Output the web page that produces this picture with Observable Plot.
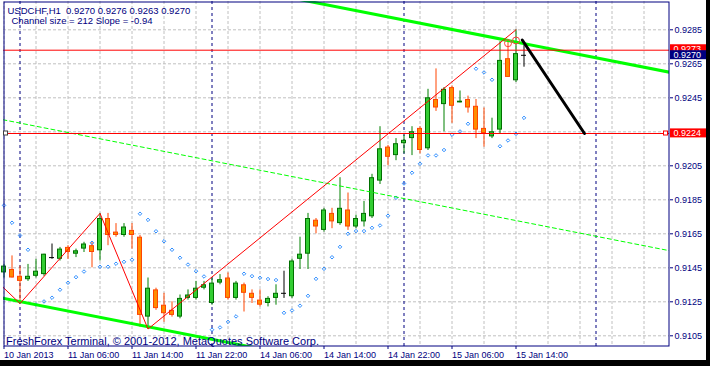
<!DOCTYPE html>
<html><head><meta charset="utf-8">
<script src="https://cdn.jsdelivr.net/npm/d3@7"></script>
<script src="https://cdn.jsdelivr.net/npm/@observablehq/plot@0.6"></script>
<style>
html,body{margin:0;padding:0;background:#000;}
#chart{width:710px;height:366px;overflow:hidden;}
svg{display:block;}
</style></head><body><div id="chart"></div>
<script>
// ---- data ----
const headerLine1 = "USDCHF,H1\u00A0\u00A00.9270 0.9276 0.9263 0.9270";
const headerLine2 = "Channel size = 212 Slope = -0.94";
const footerText = "FreshForex Terminal, \u00A9 2001-2012, MetaQuotes Software Corp.";

const barIndex = d3.range(-2, 64);
const opens = [0.9142,0.9144,0.9140,0.9138,0.9140,0.9141,0.9151,0.9150,0.9157,0.9153,0.9156,0.9158,0.9155,0.9174,0.9166,0.9164,0.9167,0.9163,0.9116,0.9132,0.9123,0.9120,0.9116,0.9127,0.9127,0.9133,0.9124,0.9136,0.9139,0.9127,0.9135,0.9130,0.9126,0.9124,0.9127,0.9130,0.9128,0.9150,0.9153,0.9173,0.9167,0.9177,0.9171,0.9179,0.9169,0.9172,0.9175,0.9196,0.9216,0.9211,0.9218,0.9221,0.9227,0.9215,0.9244,0.9241,0.9251,0.9242,0.9244,0.9240,0.9227,0.9222,0.9226,0.9268,0.9255,0.9270];
const highs = [0.9147,0.9152,0.9146,0.9147,0.9150,0.9153,0.9159,0.9157,0.9158,0.9156,0.9160,0.9160,0.9177,0.9177,0.9171,0.9171,0.9171,0.9164,0.9139,0.9133,0.9130,0.9125,0.9129,0.9132,0.9137,0.9137,0.9139,0.9141,0.9142,0.9137,0.9136,0.9132,0.9132,0.9128,0.9135,0.9143,0.9150,0.9163,0.9177,0.9174,0.9180,0.9180,0.9198,0.9189,0.9176,0.9184,0.9200,0.9228,0.9217,0.9221,0.9223,0.9228,0.9228,0.9250,0.9262,0.9251,0.9252,0.9249,0.9246,0.9244,0.9239,0.9233,0.9278,0.9279,0.9285,0.9276];
const lows = [0.9139,0.9139,0.9124,0.9137,0.9139,0.9140,0.9150,0.9149,0.9150,0.9151,0.9154,0.9145,0.9149,0.9158,0.9163,0.9163,0.9156,0.9110,0.9109,0.9120,0.9113,0.9116,0.9115,0.9126,0.9126,0.9132,0.9123,0.9135,0.9126,0.9126,0.9119,0.9124,0.9122,0.9122,0.9123,0.9127,0.9127,0.9144,0.9144,0.9165,0.9166,0.9168,0.9170,0.9167,0.9168,0.9169,0.9174,0.9194,0.9205,0.9208,0.9212,0.9211,0.9212,0.9214,0.9237,0.9225,0.9230,0.9242,0.9236,0.9221,0.9216,0.9221,0.9224,0.9257,0.9254,0.9263];
const closes = [0.9146,0.9139,0.9137,0.9140,0.9143,0.9153,0.9151,0.9156,0.9154,0.9155,0.9159,0.9154,0.9174,0.9164,0.9164,0.9169,0.9164,0.9117,0.9133,0.9121,0.9118,0.9117,0.9127,0.9129,0.9133,0.9135,0.9136,0.9138,0.9127,0.9136,0.9130,0.9127,0.9123,0.9127,0.9130,0.9130,0.9149,0.9153,0.9174,0.9169,0.9179,0.9172,0.9180,0.9169,0.9174,0.9177,0.9198,0.9215,0.9210,0.9218,0.9220,0.9225,0.9214,0.9245,0.9239,0.9250,0.9240,0.9243,0.9239,0.9226,0.9224,0.9225,0.9267,0.9257,0.9271,0.9270];
const sarValues = [0.91817,0.91715,0.91640,0.91556,0.91234,0.91252,0.91274,0.91321,0.91362,0.91395,0.91428,0.91597,0.91456,0.91456,0.91474,0.91485,0.91497,0.91768,0.91732,0.91665,0.91606,0.91556,0.91509,0.91469,0.91430,0.91399,0.91086,0.91099,0.91132,0.91164,0.91415,0.91401,0.91391,0.91384,0.91378,0.91185,0.91199,0.91227,0.91285,0.91385,0.91444,0.91512,0.91573,0.91650,0.91666,0.91666,0.91685,0.91699,0.91756,0.91862,0.91946,0.92009,0.92062,0.92111,0.92111,0.92143,0.92233,0.92252,0.92297,0.92621,0.92599,0.92556,0.92165,0.92199,0.92238,0.92332];

const zigzagIndex = [-4, 0, 10, 16, 62];
const zigzagPrice = [0.9142, 0.9124, 0.9177, 0.9109, 0.9285];

const channelIndex = [-3, 82];
const channelMid = [0.92329, 0.91543];
const channelHalf = 0.0105;

const hLinePrices = [0.9273, 0.9224];
const bidPrice = 0.9270;
const arrowIndex = [62.78, 70.56];
const arrowPrice = [0.9279, 0.9224];
const circleIndex = [61, 62];
const circlePrice = [0.92771, 0.92787];

const priceTicks = [0.9105,0.9125,0.9145,0.9165,0.9185,0.9205,0.9225,0.9245,0.9265,0.9285];
const gridIndex = d3.range(-2, 82, 4);
const daySeparators = [0, 24, 48, 72];
const timeTickIndex = [-2, 6, 14, 22, 30, 38, 46, 54, 62];
const timeTickLabels = ["10 Jan 2013","11 Jan 06:00","11 Jan 14:00","11 Jan 22:00","14 Jan 06:00","14 Jan 14:00","14 Jan 22:00","15 Jan 06:00","15 Jan 14:00"];

// ---- tables ----
const candles = barIndex.map((i, k) => ({i, open: opens[k], high: highs[k], low: lows[k], close: closes[k]}));
const kind = d => d.close > d.open ? "up" : d.close < d.open ? "down" : "doji";
const wickColor = {up: "#008000", down: "#ff4500", doji: "#000000"};
const bodyFill = {up: "#32cd32", down: "#ff8c00"};
const bodyStroke = {up: "#007000", down: "#ff4500"};
const bodies = candles.filter(d => kind(d) !== "doji");
const dojis = candles.filter(d => kind(d) === "doji");
const sarData = barIndex.map((i, k) => ({i, v: sarValues[k]}));
const zigzag = zigzagIndex.map((i, k) => ({i, p: zigzagPrice[k]}));
const chanTop = channelIndex.map((i, k) => ({i, p: channelMid[k] + channelHalf}));
const chanMid = channelIndex.map((i, k) => ({i, p: channelMid[k]}));
const chanBot = channelIndex.map((i, k) => ({i, p: channelMid[k] - channelHalf}));
const arrow = arrowIndex.map((i, k) => ({i, p: arrowPrice[k]}));
const circles = circleIndex.map((i, k) => ({i, p: circlePrice[k]}));
const half = 0.3125;
const navy = "#000080";
const font = "'Liberation Sans', Arial, sans-serif";

const plot = Plot.plot({
  width: 706, height: 360,
  marginLeft: 3, marginRight: 37, marginTop: 1, marginBottom: 14,
  x: {type: "linear", domain: [-2, 63], range: [3.5, 523.5]},
  y: {type: "linear", domain: [0.9105, 0.9285], range: [335.3, 29.3]},
  style: {background: "#fff", color: navy, fontFamily: font, fontSize: "9px", overflow: "visible"},
  marks: [
    Plot.ruleY(priceTicks, {stroke: "#c0c0c0", strokeOpacity: 1, strokeDasharray: "3,2"}),
    Plot.ruleX(gridIndex, {stroke: "#c0c0c0", strokeOpacity: 1, strokeDasharray: "3,2"}),
    Plot.ruleX(daySeparators, {stroke: navy, strokeDasharray: "3,3"}),
    Plot.ruleX(candles, {x: "i", y1: "low", y2: "high", stroke: d => wickColor[kind(d)]}),
    Plot.rect(bodies, {x1: d => d.i - half, x2: d => d.i + half, y1: "open", y2: "close",
      fill: d => bodyFill[kind(d)], stroke: d => bodyStroke[kind(d)], inset: 0.5}),
    Plot.ruleY(dojis, {y: "close", x1: d => d.i - half, x2: d => d.i + half, stroke: "#000"}),
    Plot.dot(sarData, {x: "i", y: "v", symbol: "diamond2", r: 1.6, stroke: "#2b8cff", strokeWidth: 1}),
    Plot.line(chanMid, {x: "i", y: "p", stroke: "#00ff00", strokeWidth: 1, strokeDasharray: "4,3", clip: true}),
    Plot.line(chanTop, {x: "i", y: "p", stroke: "#00ff00", strokeWidth: 3, clip: true}),
    Plot.line(chanBot, {x: "i", y: "p", stroke: "#00ff00", strokeWidth: 3, clip: true}),
    Plot.line(zigzag, {x: "i", y: "p", stroke: "#ff0000", strokeWidth: 1, clip: true}),
    Plot.ruleY(hLinePrices, {stroke: "#ff0000"}),
    Plot.line(arrow, {x: "i", y: "p", stroke: "#000", strokeWidth: 3}),
    Plot.dot(circles, {x: "i", y: "p", r: 3.5, stroke: "#ff4040", fill: "none", strokeWidth: 1}),
    Plot.frame({stroke: navy, inset: 0.5}),
    Plot.axisY({anchor: "right", ticks: priceTicks, tickFormat: d3.format(".4f"), tickSize: 3, tickPadding: 2, label: null}),
    Plot.axisX({anchor: "bottom", ticks: timeTickIndex, tickFormat: d => timeTickLabels[timeTickIndex.indexOf(d)],
      tickSize: 3, tickPadding: 2, textAnchor: "start", label: null}),
    Plot.text([headerLine1], {frameAnchor: "top-left", dx: 4, dy: 6.0, lineAnchor: "top", textAnchor: "start", fill: navy, fontSize: 9.5}),
    Plot.text([headerLine2], {frameAnchor: "top-left", dx: 8, dy: 15.6, lineAnchor: "top", textAnchor: "start", fill: navy, fontSize: 9.5}),
    Plot.text([footerText], {frameAnchor: "bottom-left", dx: 2.5, dy: -9.3, lineAnchor: "top", textAnchor: "start", fill: navy, fontSize: 11})
  ]
});
document.getElementById("chart").appendChild(plot);

// price label boxes on the right axis, positioned with Plot's y scale
const ys = plot.scale("y");
const svg = d3.select(plot);
function priceBox(price, fill, label) {
  const y = ys.apply(price);
  const g = svg.append("g");
  g.append("rect").attr("x", 670).attr("y", y - 4.6).attr("width", 36).attr("height", 9).attr("fill", fill);
  g.append("text").attr("x", 673.5).attr("y", y + 3.2).attr("fill", "#fff")
    .attr("text-anchor", "start").style("font-family", font).style("font-size", "9px").text(label);
}
priceBox(hLinePrices[0] + 0.00005, "#ff0000", d3.format(".4f")(hLinePrices[0]));
priceBox(bidPrice, navy, d3.format(".4f")(bidPrice));
priceBox(hLinePrices[1], "#ff0000", d3.format(".4f")(hLinePrices[1]));
// anchor squares of the 0.9224 line
const yh = ys.apply(hLinePrices[1]);
svg.append("rect").attr("x", 3.5).attr("y", yh - 2).attr("width", 4).attr("height", 4).attr("fill", "#fff").attr("stroke", "#404040");
svg.append("rect").attr("x", 663.5).attr("y", yh - 2).attr("width", 4).attr("height", 4).attr("fill", "#fff").attr("stroke", "#ff0000");
</script></body></html>
